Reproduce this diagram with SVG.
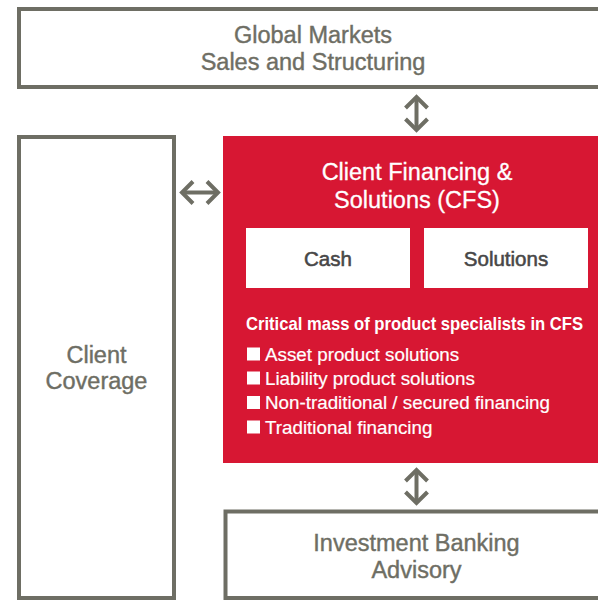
<svg xmlns="http://www.w3.org/2000/svg" width="598" height="601" viewBox="0 0 598 601">
  <style>
    .frame { fill: #ffffff; stroke: #6e6e64; stroke-width: 4; }
    .title { font-family: "Liberation Sans", Arial, sans-serif; font-size: 23.5px; fill: #6e6e64; stroke: #6e6e64; stroke-width: 0.4; text-anchor: middle; }
    .title-w { font-family: "Liberation Sans", Arial, sans-serif; font-size: 23.5px; fill: #ffffff; stroke: #ffffff; stroke-width: 0.3; text-anchor: middle; }
    .tab { fill: #ffffff; }
    .tab-text { font-family: "Liberation Sans", Arial, sans-serif; font-size: 20.5px; fill: #474747; stroke: #474747; stroke-width: 0.55; text-anchor: middle; }
    .heading { font-family: "Liberation Sans", Arial, sans-serif; font-size: 19px; font-weight: bold; fill: #ffffff; }
    .item { font-family: "Liberation Sans", Arial, sans-serif; font-size: 18.8px; fill: #ffffff; stroke: #ffffff; stroke-width: 0.2; }
    .bullet { fill: #ffffff; }
    .arrow { fill: none; stroke: #6e6e64; stroke-width: 4; stroke-linecap: butt; stroke-linejoin: miter; }
  </style>

  <!-- Global Markets box -->
  <g id="global-markets">
    <rect class="frame" x="19" y="9" width="600" height="78"/>
    <text class="title" x="313" y="43">Global Markets</text>
    <text class="title" x="313" y="70">Sales and Structuring</text>
  </g>

  <!-- Client Coverage column -->
  <g id="client-coverage">
    <rect class="frame" x="19" y="137" width="155" height="461"/>
    <text class="title" x="96.5" y="363">Client</text>
    <text class="title" x="96.5" y="389">Coverage</text>
  </g>

  <!-- Client Financing & Solutions -->
  <g id="cfs">
    <rect x="223" y="136" width="380" height="327" fill="#d71733"/>
    <text class="title-w" x="417" y="179.5">Client Financing &amp;</text>
    <text class="title-w" x="417" y="207.5">Solutions (CFS)</text>

    <g id="cash">
      <rect class="tab" x="246" y="228" width="164" height="60"/>
      <text class="tab-text" x="328" y="266">Cash</text>
    </g>
    <g id="solutions">
      <rect class="tab" x="424" y="228" width="164" height="60"/>
      <text class="tab-text" x="506" y="266">Solutions</text>
    </g>

    <!-- condensed heading: horizontally squeezed bold face -->
    <text class="heading" transform="translate(246 329.5) scale(0.875 1)">Critical mass of product specialists in CFS</text>

    <rect class="bullet" x="247" y="347.5" width="13" height="13"/>
    <text class="item" x="265" y="360.5">Asset product solutions</text>
    <rect class="bullet" x="247" y="371.5" width="13" height="13"/>
    <text class="item" x="265" y="384.5">Liability product solutions</text>
    <rect class="bullet" x="247" y="396" width="13" height="13"/>
    <text class="item" x="265" y="409">Non-traditional / secured financing</text>
    <rect class="bullet" x="247" y="420.5" width="13" height="13"/>
    <text class="item" x="265" y="433.5">Traditional financing</text>
  </g>

  <!-- Investment Banking Advisory box -->
  <g id="ib-advisory">
    <rect class="frame" x="225.5" y="511.5" width="400" height="86.5"/>
    <text class="title" x="416.5" y="551">Investment Banking</text>
    <text class="title" x="416.5" y="577.5">Advisory</text>
  </g>

  <!-- Connectors -->
  <g id="connectors">
    <!-- Global Markets <-> CFS -->
    <g class="arrow">
      <path d="M416.5 97 V130"/>
      <path d="M405.5 108 L416.5 97 L427.5 108"/>
      <path d="M405.5 119 L416.5 130 L427.5 119"/>
    </g>
    <!-- Client Coverage <-> CFS -->
    <g class="arrow">
      <path d="M182 192.5 H218"/>
      <path d="M193 181.5 L182 192.5 L193 203.5"/>
      <path d="M207 181.5 L218 192.5 L207 203.5"/>
    </g>
    <!-- CFS <-> Investment Banking Advisory -->
    <g class="arrow">
      <path d="M416.5 470 V503"/>
      <path d="M405.5 481 L416.5 470 L427.5 481"/>
      <path d="M405.5 492 L416.5 503 L427.5 492"/>
    </g>
  </g>
</svg>
